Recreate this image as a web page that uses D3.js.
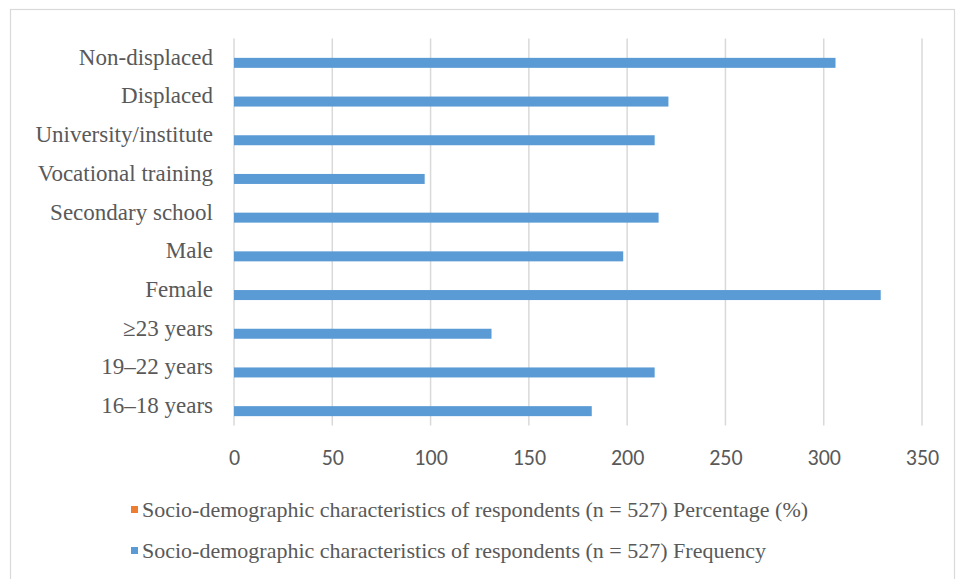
<!DOCTYPE html>
<html>
<head>
<meta charset="utf-8">
<script src="https://cdn.jsdelivr.net/npm/d3@7"></script>
<style>
  html, body { margin: 0; padding: 0; background: #fff; }
  svg { display: block; }
  svg#chart text.lbl { font-family: "Liberation Serif", "Times New Roman", serif !important; }
  svg#chart text.num { font-family: "Carlito", "Liberation Sans", sans-serif !important; }
</style>
</head>
<body>
<svg id="chart" width="956" height="579"></svg>
<script>
// Categories, top to bottom as drawn
const categories = [
  "Non-displaced", "Displaced", "University/institute", "Vocational training",
  "Secondary school", "Male", "Female", "≥23 years", "19–22 years", "16–18 years"
];
// Frequency of respondents per category
const frequency = [306, 221, 214, 97, 216, 198, 329, 131, 214, 182];
// Percentage series carries no plotted values
const percentage = [null, null, null, null, null, null, null, null, null, null];
const xTicks = [0, 50, 100, 150, 200, 250, 300, 350];
const seriesNames = [
  "Socio-demographic characteristics of respondents (n = 527) Percentage (%)",
  "Socio-demographic characteristics of respondents (n = 527) Frequency"
];
const seriesColors = ["#ED7D31", "#5B9BD5"];

const SERIF = "Liberation Serif";
const SANS = "Carlito";

const svg = d3.select("#chart");
const W = 956, H = 579;
const plot = { left: 234, right: 922, top: 38.5, bottom: 425.5 };

// Chart frame
svg.append("rect")
  .attr("x", 10.5).attr("y", 9.5)
  .attr("width", W - 12).attr("height", H)
  .attr("fill", "none").attr("stroke", "#d9d9d9").attr("stroke-width", 1.2);

const x = d3.scaleLinear().domain([0, 350]).range([plot.left, plot.right]);
const y = d3.scaleBand().domain(categories).range([plot.top, plot.bottom]);
// Two bar slots per category, percentage on top, frequency below
const slot = d3.scaleBand().domain([0, 1])
  .range([y.bandwidth() / 2 - 10, y.bandwidth() / 2 + 10]);

// Vertical gridlines
svg.append("g")
  .selectAll("line")
  .data(xTicks)
  .join("line")
  .attr("x1", d => x(d)).attr("x2", d => x(d))
  .attr("y1", plot.top).attr("y2", plot.bottom)
  .attr("stroke", "#d9d9d9").attr("stroke-width", 1.5);

// X axis tick labels
const xAxis = d3.axisBottom(x).tickValues(xTicks).tickSize(0).tickPadding(0);
const gx = svg.append("g")
  .attr("transform", `translate(0,${plot.bottom + 32})`)
  .call(xAxis)
  .attr("font-family", SANS)
  .attr("font-size", 22);
gx.select(".domain").remove();
gx.selectAll("text")
  .attr("class", "num")
  .attr("font-family", SANS)
  .attr("fill", "#595959")
  .attr("y", 0)
  .attr("dy", "0.35em");

// Category labels
const yAxis = d3.axisLeft(y).tickSize(0).tickPadding(0);
const gy = svg.append("g")
  .attr("transform", `translate(${plot.left - 21},0)`)
  .call(yAxis)
  .attr("font-family", SERIF)
  .attr("font-size", 23);
gy.select(".domain").remove();
gy.selectAll("text")
  .attr("class", "lbl")
  .attr("font-family", SERIF)
  .attr("fill", "#595959")
  .attr("dy", "0.3em");

// Bars
const series = [percentage, frequency];
series.forEach((vals, si) => {
  svg.append("g")
    .selectAll("rect")
    .data(categories.map((c, i) => ({ c, v: vals[i] })).filter(d => d.v != null))
    .join("rect")
    .attr("x", x(0))
    .attr("y", d => y(d.c) + slot(si))
    .attr("width", d => x(d.v) - x(0))
    .attr("height", slot.bandwidth())
    .attr("fill", seriesColors[si]);
});

// Legend
const legend = svg.append("g")
  .attr("font-family", SERIF)
  .attr("font-size", 22);
seriesNames.forEach((name, i) => {
  const ly = 510 + i * 41;
  legend.append("rect")
    .attr("x", 131).attr("y", ly - 4)
    .attr("width", 7).attr("height", 7)
    .attr("fill", seriesColors[i]);
  legend.append("text")
    .attr("class", "lbl")
    .attr("font-family", SERIF)
    .attr("x", 142).attr("y", ly)
    .attr("dy", "0.3em")
    .attr("fill", "#595959")
    .text(name);
});
</script>
</body>
</html>
